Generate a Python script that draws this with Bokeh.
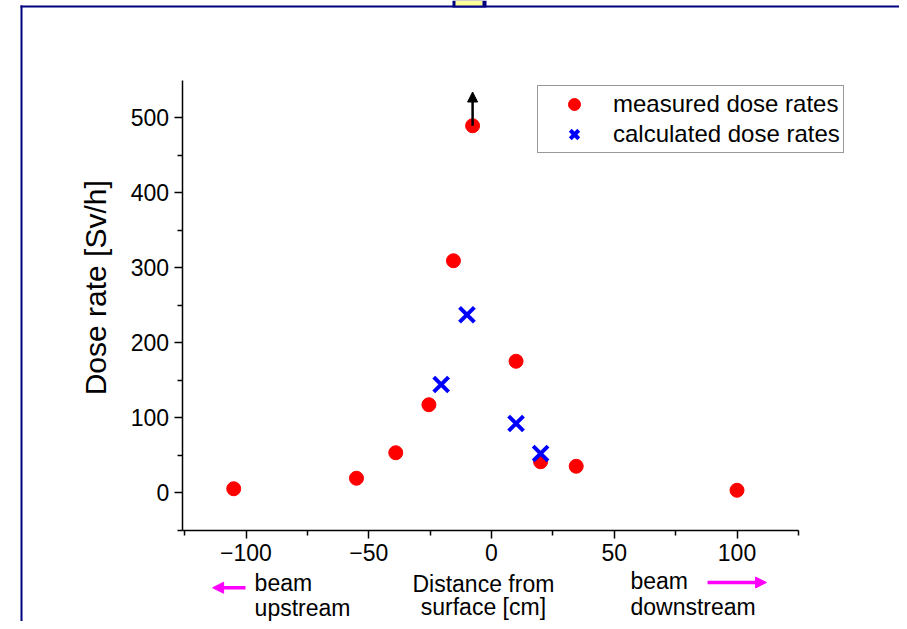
import math
from bokeh.plotting import figure
from bokeh.models import Range1d, Label, Arrow, NormalHead, BoxAnnotation, FixedTicker
from bokeh.embed import file_html
from bokeh.resources import INLINE

# measured dose rates
meas_x = [-105, -55, -39, -25.5, -15.5, -7.7, 10, 20, 34.5, 100]
meas_y = [5, 19, 53, 117, 309, 489, 175, 41, 35, 3]
# calculated dose rates
calc_x = [-20.5, -10, 10, 20]
calc_y = [144, 237, 92, 52]

x_ticks = [-100, -50, 0, 50, 100]
y_ticks = [0, 100, 200, 300, 400, 500]
x_minor = [-125, -75, -25, 25, 75, 125]
y_minor = [-50, 50, 150, 250, 350, 450]
x_bounds = (-126, 125)
y_bounds = (-51, 549)

FONT = "Liberation Sans"
W, H = 899, 621
PX_X, X0 = 2.455, 491   # pixels per unit, pixel of x=0
PX_Y, Y0 = 0.75, 492

p = figure(width=W, height=H, output_backend="svg", toolbar_location=None,
           x_range=Range1d(-X0 / PX_X, (W - X0) / PX_X),
           y_range=Range1d((Y0 - H) / PX_Y, Y0 / PX_Y),
           min_border=0)
p.outline_line_color = None
p.xgrid.visible = False
p.ygrid.visible = False
p.title.visible = False

for ax, ticks, minor, b in ((p.xaxis[0], x_ticks, x_minor, x_bounds),
                            (p.yaxis[0], y_ticks, y_minor, y_bounds)):
    ax.ticker = FixedTicker(ticks=ticks, minor_ticks=minor)
    ax.bounds = b
    ax.axis_line_color = "black"
    ax.axis_line_width = 1.5
    ax.major_tick_line_color = "black"
    ax.major_tick_line_width = 1.5
    ax.minor_tick_line_color = "black"
    ax.minor_tick_line_width = 1.5
    ax.major_tick_out = 8
    ax.major_tick_in = 0
    ax.minor_tick_out = 5
    ax.minor_tick_in = 0
    ax.major_label_text_font = FONT
    ax.major_label_text_font_size = "23px"
    ax.major_label_text_color = "black"

p.xaxis.fixed_location = y_bounds[0]
p.yaxis.fixed_location = x_bounds[0]
p.xaxis.major_label_standoff = 5
p.yaxis.major_label_standoff = 5

p.scatter(meas_x, meas_y, marker="circle", size=14, fill_color="red", line_color="red",
          legend_label="measured dose rates")
p.scatter(calc_x, calc_y, marker="x", size=21, line_width=4, line_color="blue",
          legend_label="calculated dose rates")

# arrow: measured value is a lower bound
top_i = meas_y.index(max(meas_y))
p.add_layout(Arrow(end=NormalHead(size=10, fill_color="black", line_color="black"),
                   x_start=meas_x[top_i], y_start=meas_y[top_i],
                   x_end=meas_x[top_i], y_end=meas_y[top_i] + 45,
                   line_width=2.5, line_color="black"))

leg = p.legend[0]
leg.location = (537, H - 153)
leg.margin = 0
leg.padding = 3
leg.spacing = 0
leg.glyph_height = 30
leg.glyph_width = 66
leg.label_height = 30
leg.label_standoff = 6
leg.label_text_font = FONT
leg.label_text_font_size = "24px"
leg.label_text_color = "black"
leg.border_line_color = "#333333"
leg.border_line_width = 1.5
leg.background_fill_alpha = 1

def lab(x, y, t, align="left", size="23px", angle=0.0):
    p.add_layout(Label(x=x, y=y, text=t, text_font=FONT, text_font_size=size,
                       text_align=align, text_baseline="middle", text_color="black",
                       angle=angle))

# y axis title
lab(-161.3, 273, "Dose rate [Sv/h]", "center", "30px", math.pi / 2)

lab(-96.5, -121, "beam")
lab(-96.5, -154, "upstream")
lab(-3.3, -122, "Distance from", "center")
lab(-3.3, -153, "surface [cm]", "center")
lab(56.6, -118, "beam")
lab(56.6, -152, "downstream")

p.add_layout(Arrow(end=NormalHead(size=11, fill_color="magenta", line_color="magenta"),
                   x_start=-100.2, y_start=-127, x_end=-113.6, y_end=-127,
                   line_width=3.5, line_color="magenta"))
p.add_layout(Arrow(end=NormalHead(size=11, fill_color="magenta", line_color="magenta"),
                   x_start=88, y_start=-120, x_end=112, y_end=-120,
                   line_width=3.5, line_color="magenta"))

# slide frame decoration (screen units, measured from the bottom)
def sbox(l, r, t, b, c):
    p.add_layout(BoxAnnotation(left=l, right=r, top=H - t, bottom=H - b,
                               left_units="screen", right_units="screen",
                               top_units="screen", bottom_units="screen",
                               fill_color=c, fill_alpha=1, line_color=None))

sbox(20, 22, 5, H, "#000080")
sbox(20, W, 5, 7, "#000080")
sbox(452, 486, 0, 7, "#000080")
sbox(455, 482, 0, 5, "#ffff99")

open("out.html", "w").write(file_html(p, INLINE))
